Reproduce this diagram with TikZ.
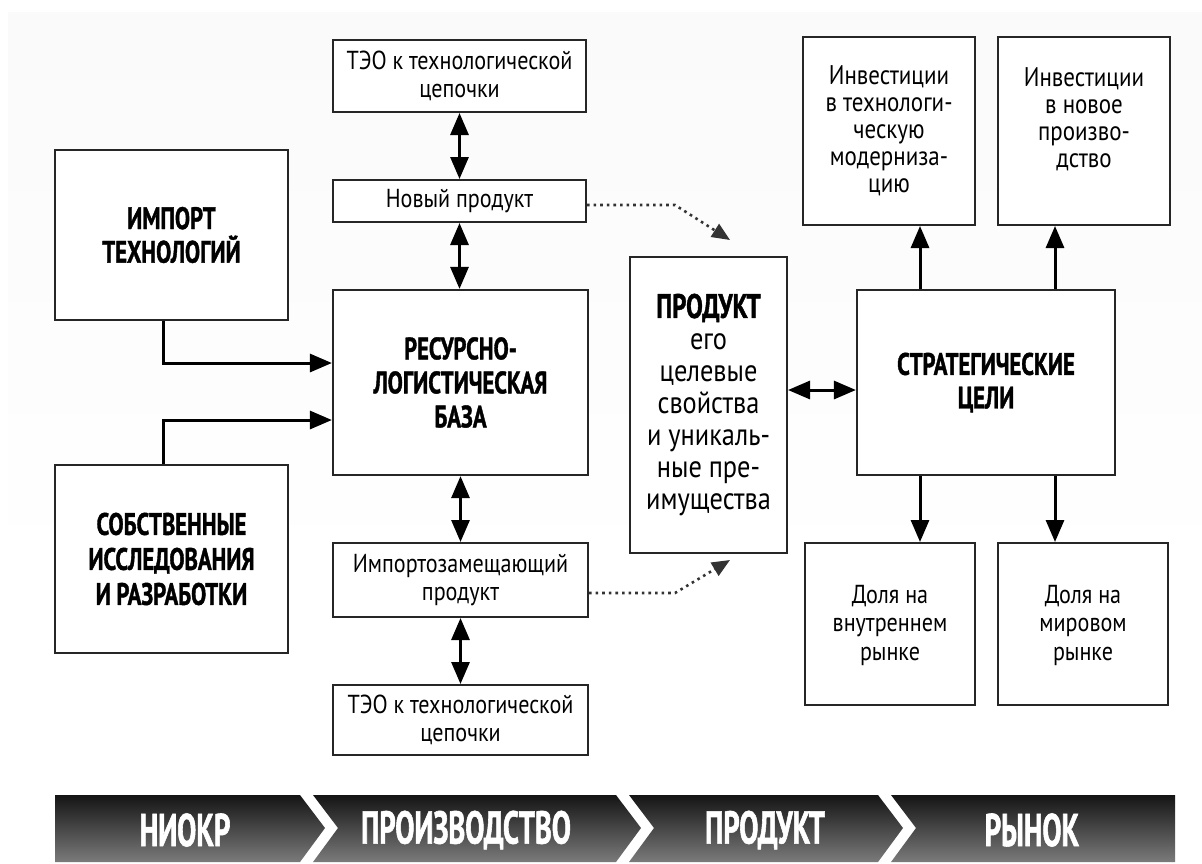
\documentclass[tikz,border=0pt]{standalone}
\usepackage{fontspec}
\setmainfont{PT Sans}[FakeStretch=0.85,BoldFeatures={FakeStretch=0.73,FakeBold=1.2}]
\newfontfamily\barfont{PT Sans}[FakeStretch=0.62,BoldFeatures={FakeStretch=0.62,FakeBold=1.2}]
\usetikzlibrary{arrows.meta}
\begin{document}
\begin{tikzpicture}[x=0.5pt,y=-0.5pt,
  box/.style={draw=black!85,line width=1pt,fill=white,inner sep=0pt,align=center,
     font=\fontsize{13}{14.3}\selectfont},
  tbox/.style={box,line width=1.1pt,font=\fontsize{15.5}{16.8}\selectfont\bfseries},
  arr/.style={line width=1.5pt,-{Triangle[length=11pt,width=9pt]}},
  darr/.style={line width=1.5pt,{Triangle[length=11pt,width=9pt]}-{Triangle[length=11pt,width=9pt]}},
  dotarr/.style={line width=1.3pt,dotted,black!80,-{Triangle[length=9pt,width=7.5pt]}},
  barseg/.style={top color=black!92,bottom color=black!52,draw=none},
  bartext/.style={text=white,font=\fontsize{23}{26}\barfont\bfseries}]
\useasboundingbox (0,0) rectangle (1202,863);
\fill[white] (0,0) rectangle (1202,863);
\shade[top color=black!2,middle color=black!14,bottom color=white,draw=none] (8,12) rectangle (1202,580);
% left column
\node[tbox,minimum width=116.5pt,minimum height=85pt] (imp) at (171.5,235) {ИМПОРТ\\ТЕХНОЛОГИЙ};
\node[tbox,minimum width=116.5pt,minimum height=94pt,font=\fontsize{15.5}{17.5}\selectfont\bfseries] (sob) at (171.5,559) {СОБСТВЕННЫЕ\\ИССЛЕДОВАНИЯ\\И РАЗРАБОТКИ};
% middle column
\node[box,minimum width=126.5pt,minimum height=36pt] (teo1) at (459.5,76) {ТЭО к технологической\\цепочки};
\node[box,minimum width=126.5pt,minimum height=21pt] (nov) at (459.5,201) {Новый продукт};
\node[tbox,minimum width=127.5pt,minimum height=92.5pt,font=\fontsize{15.5}{17}\selectfont\bfseries] (res) at (460.5,382.5) {РЕСУРСНО-\\ЛОГИСТИЧЕСКАЯ\\БАЗА};
\node[box,minimum width=127.5pt,minimum height=37pt] (imz) at (460.5,580) {Импортозамещающий\\продукт};
\node[box,minimum width=127.5pt,minimum height=35pt] (teo2) at (460.5,720) {ТЭО к технологической\\цепочки};
% product
\node[box,minimum width=78.5pt,minimum height=148pt,font=\fontsize{15.5}{16}\selectfont] (prod) at (708.5,405) {\textbf{\fontsize{17}{16}\selectfont ПРОДУКТ}\\его\\целевые\\свойства\\и уникаль-\\ные пре-\\имущества};
% right
\node[tbox,minimum width=129pt,minimum height=92.5pt] (str) at (986,382.5) {СТРАТЕГИЧЕСКИЕ\\ЦЕЛИ};
\node[box,minimum width=86pt,minimum height=94pt,font=\fontsize{13.5}{13.5}\selectfont] (inv1) at (889,131) {Инвестиции\\в технологи-\\ческую\\модерниза-\\цию};
\node[box,minimum width=86pt,minimum height=94pt,font=\fontsize{13.5}{13.5}\selectfont] (inv2) at (1084,131) {Инвестиции\\в новое\\произво-\\дство\\\mbox{}};
\node[box,minimum width=85pt,minimum height=81pt] (dol1) at (890,624) {\mbox{}\\[-4pt]Доля на\\внутреннем\\рынке};
\node[box,minimum width=85pt,minimum height=81pt] (dol2) at (1083,624) {\mbox{}\\[-4pt]Доля на\\мировом\\рынке};
% connectors
\coordinate (k1) at (163,363);
\coordinate (k2) at (163,420);
\draw[arr] (imp.south -| k1) |- (k1 -| res.west);
\draw[arr] (sob.north -| k2) |- (k2 -| res.west);
\draw[darr] (teo1.south) -- (nov.north);
\draw[darr] (nov.south) -- (res.north -| nov.south);
\draw[darr] (res.south) -- (imz.north);
\draw[darr] (imz.south) -- (teo2.north);
\coordinate (s1) at (920,0);
\coordinate (s2) at (1055,0);
\draw[arr] (str.north -| s1) -- (inv1.south -| s1);
\draw[arr] (str.north -| s2) -- (inv2.south -| s2);
\draw[arr] (str.south -| s1) -- (dol1.north -| s1);
\draw[arr] (str.south -| s2) -- (dol2.north -| s2);
\coordinate (h1) at (0,390);
\draw[darr] (prod.east |- h1) -- (str.west |- h1);
\coordinate (d1) at (675,205);
\coordinate (d1e) at (730,240);
\coordinate (d2) at (675,593);
\coordinate (d2e) at (730,560);
\draw[dotarr] (nov.east |- d1) -- (d1) -- (d1e);
\draw[dotarr] (imz.east |- d2) -- (d2) -- (d2e);
% bottom bar
\shade[barseg] (55,795) -- (300,795) -- (325,828) -- (300,862) -- (55,862) -- cycle;
\shade[barseg] (313,795) -- (616,795) -- (641,828) -- (616,862) -- (313,862) -- (338,828) -- cycle;
\shade[barseg] (629,795) -- (878,795) -- (903,828) -- (878,862) -- (629,862) -- (654,828) -- cycle;
\shade[barseg] (891,795) -- (1175,795) -- (1175,862) -- (891,862) -- (916,828) -- cycle;
\node[bartext] (b1) at (185,830) {НИОКР};
\node[bartext] (b2) at (466,830) {ПРОИЗВОДСТВО};
\node[bartext] (b3) at (765,830) {ПРОДУКТ};
\node[bartext] (b4) at (1032,830) {РЫНОК};
\end{tikzpicture}
\end{document}
